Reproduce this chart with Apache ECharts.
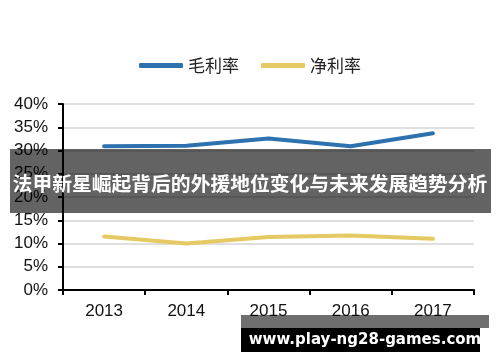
<!DOCTYPE html>
<html>
<head>
<meta charset="utf-8">
<script src="https://cdn.jsdelivr.net/npm/echarts@6/dist/echarts.min.js"></script>
<style>html,body{margin:0;padding:0;background:#fff;}#c{width:500px;height:362px;}</style>
</head>
<body>
<div id="c"></div>
<script>
const years = ['2013', '2014', '2015', '2016', '2017'];
const grossMargin = [30.9, 31.0, 32.6, 30.9, 33.7];
const netMargin = [11.5, 10.0, 11.4, 11.7, 11.0];
const yTicks = [0, 5, 10, 15, 20, 25, 30, 35, 40];
const seriesNames = ['毛利率', '净利率'];
const bannerText = '法甲新星崛起背后的外援地位变化与未来发展趋势分析';
const watermarkText = 'www.play-ng28-games.com';

const chart = echarts.init(document.getElementById('c'), null, {renderer: 'canvas'});
chart.setOption({
  animation: false,
  backgroundColor: '#ffffff',
  legend: {
    top: 52,
    left: 'center',
    itemWidth: 44,
    itemHeight: 5,
    itemGap: 22,
    icon: 'roundRect',
    textStyle: {fontFamily: 'Noto Sans CJK SC', fontSize: 17, color: '#222'},
    data: seriesNames
  },
  grid: {left: 63, right: 26, top: 104, bottom: 72},
  xAxis: {
    type: 'category',
    data: years,
    boundaryGap: true,
    axisLine: {lineStyle: {color: '#000', width: 2}},
    axisTick: {show: true, length: 5, lineStyle: {color: '#000', width: 2}},
    axisLabel: {fontFamily: 'Liberation Sans', fontSize: 17, color: '#111', margin: 13}
  },
  yAxis: {
    type: 'value',
    min: yTicks[0],
    max: yTicks[yTicks.length - 1],
    interval: 5,
    axisLine: {show: true, lineStyle: {color: '#000', width: 2}},
    axisTick: {show: true, length: 5, lineStyle: {color: '#000', width: 2}},
    splitLine: {lineStyle: {color: '#d4d4d4', width: 1.5}},
    axisLabel: {fontFamily: 'Liberation Sans', fontSize: 17, color: '#111', margin: 15, formatter: '{value}%'}
  },
  series: [
    {name: seriesNames[0], type: 'line', data: grossMargin, symbol: 'none',
     lineStyle: {color: '#2D72AF', width: 4, cap: 'round'}, itemStyle: {color: '#2D72AF'}},
    {name: seriesNames[1], type: 'line', data: netMargin, symbol: 'none',
     lineStyle: {color: '#E5C962', width: 4, cap: 'round'}, itemStyle: {color: '#E5C962'}}
  ],
  graphic: [
    {type: 'rect', z: 100, shape: {x: 10, y: 149, width: 481, height: 64}, style: {fill: 'rgba(0,0,0,0.61)'}},
    {type: 'text', z: 101, x: 250, y: 183, style: {text: bannerText, fill: '#fff', font: 'bold 19.8px "Noto Sans CJK SC"', textAlign: 'center', textVerticalAlign: 'middle'}},
    {type: 'rect', z: 100, shape: {x: 241, y: 315, width: 248, height: 13}, style: {fill: 'rgba(0,0,0,0.57)'}},
    {type: 'rect', z: 100, shape: {x: 241, y: 328, width: 239, height: 24}, style: {fill: '#000'}},
    {type: 'text', z: 101, x: 365, y: 340, style: {text: watermarkText, fill: '#fff', font: 'bold 15px "DejaVu Sans"', textAlign: 'center', textVerticalAlign: 'middle'}}
  ]
});
</script>
</body>
</html>
